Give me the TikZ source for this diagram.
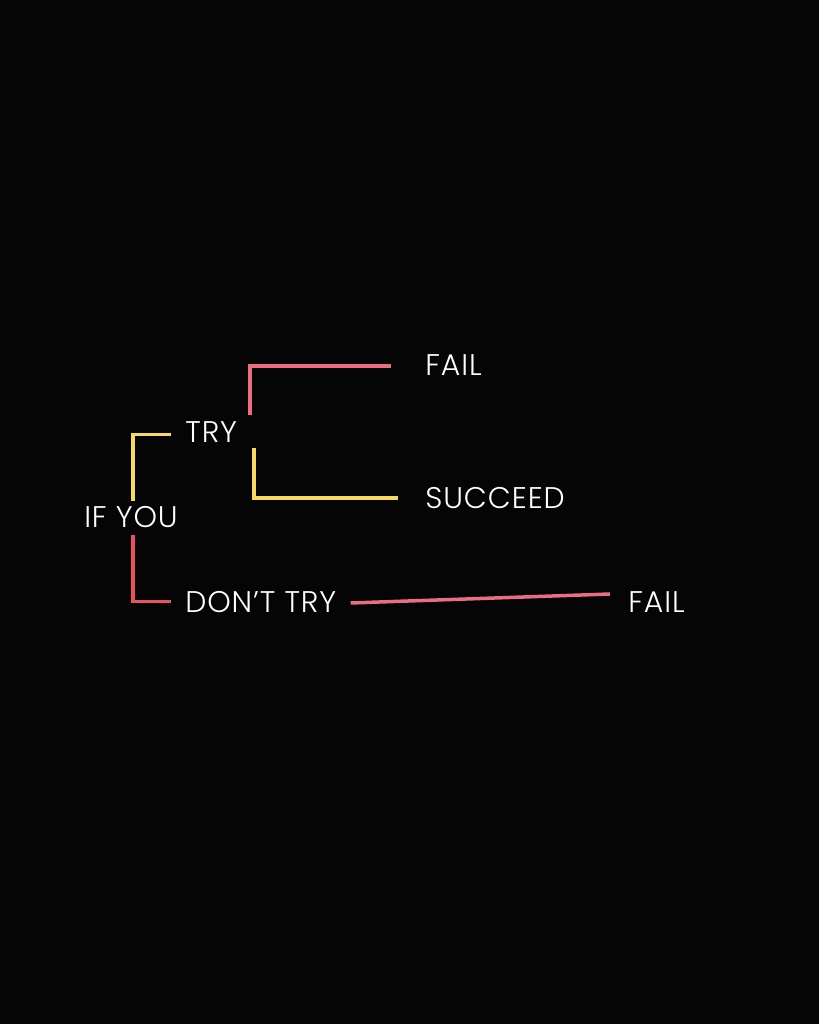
\documentclass[tikz,border=0pt]{standalone}
\usepackage{fontspec}
\setmainfont{Poppins Light}[LetterSpace=3]
\definecolor{bgblack}{HTML}{050505}
\definecolor{failpink}{HTML}{EC6C82}
\definecolor{tryyellow}{HTML}{F8D95F}
\definecolor{dontred}{HTML}{E9525C}
\tikzset{
word/.style={text=white,font=\fontsize{17}{19}\selectfont,inner sep=0pt,text height=.4cm,text depth=0pt,anchor=west},
branch/.style={line width=.07cm}
}
\begin{document}
\begin{tikzpicture}
\fill[bgblack] (0,0) rectangle (16.38,20.48);
\node (ifyou) at (2.62,10.12) [word,anchor=center,minimum height=.68cm]{IF YOU};
\node (try) at (3.7,11.82) [word]{TRY};
\node (dont) at (3.7,8.43) [word]{DON’T TRY};
\node (fail1) at (8.5,13.16) [word]{FAIL};
\node (succeed) at (8.5,10.5) [word]{SUCCEED};
\node (fail2) at (12.56,8.42) [word]{FAIL};
\coordinate (tryup) at (5,12.18);
\coordinate (trydown) at (5.08,11.52);
\draw[branch,tryyellow,shorten >=.28cm] ([xshift=.04cm]ifyou.north) |- ([yshift=-.03cm]try.west);
\draw[branch,dontred,shorten >=.28cm] ([xshift=.04cm]ifyou.south) |- ([yshift=.02cm]dont.west);
\draw[branch,failpink,shorten >=.68cm] (tryup) |- (fail1.west);
\draw[branch,tryyellow,shorten >=.54cm] (trydown) |- ([yshift=.02cm]succeed.west);
\draw[branch,failpink] ([xshift=.28cm,yshift=-.01cm]dont.east) -- ([xshift=-.36cm,yshift=.18cm]fail2.west);
\end{tikzpicture}
\end{document}
